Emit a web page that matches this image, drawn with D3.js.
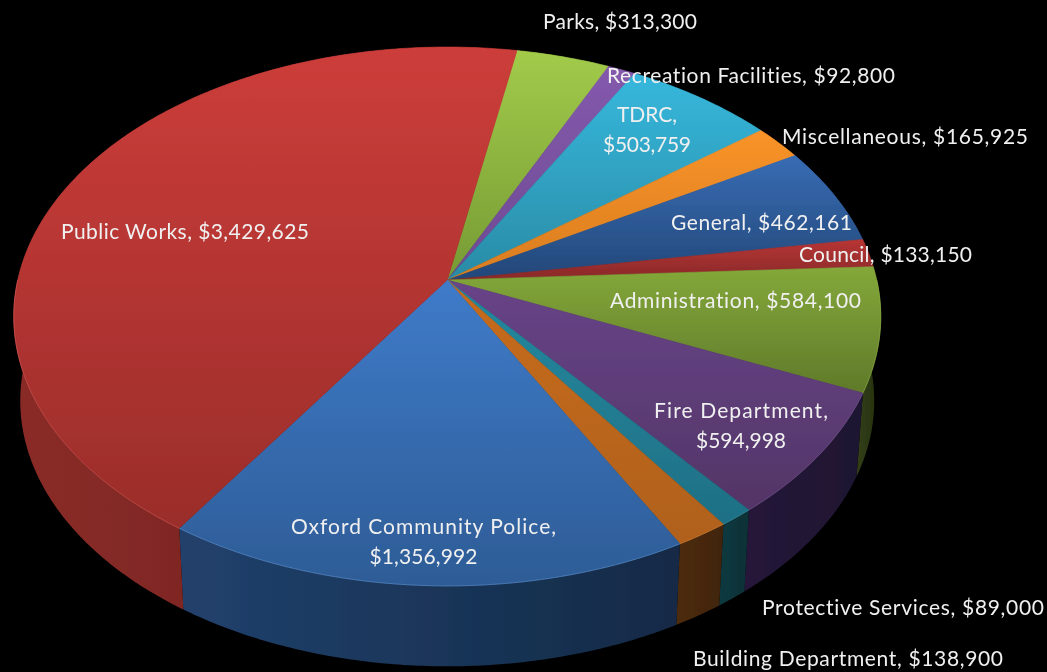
<!DOCTYPE html>
<html><head><meta charset="utf-8">
<script src="https://cdnjs.cloudflare.com/ajax/libs/d3/7.8.5/d3.min.js"></script>
<style>html,body{margin:0;padding:0;background:#000;overflow:hidden}svg{display:block}
text{font-family:Lato,"Open Sans",sans-serif;fill:#f0f0f0;font-size:21px;font-variant-ligatures:none}</style>
</head><body><svg id="c" width="1047" height="672"></svg>
<script>
const categories=["Parks","Recreation Facilities","TDRC","Miscellaneous","General","Council","Administration","Fire Department","Protective Services","Building Department","Oxford Community Police","Public Works"];
const values=[313300,92800,503759,165925,462161,133150,584100,594998,89000,138900,1356992,3429625];
const topLight=["#a2cb4a","#8459ad","#36b8dd","#f99329","#386cb4","#b83533","#84a83a","#684488","#22899f","#c76b1c","#3f7bc9","#cc3d3a"];
const topDark=["#769a34","#6d4a92","#2a8ba5","#d97d20","#234778","#88292a","#5f7a2a","#533566","#1f7085","#b0611a","#2d5c96","#9a2d2a"];
const sideLight=["#4f6a1c","#3f2a55","#175a6e","#8a4c10","#1a3760","#5e1a1a","#323f15","#26183a","#0e3a40","#4d2c0d","#21416c","#8a2c28"];
const sideDark=["#3c5014","#2e1e40","#10485a","#6e3c0c","#122a4c","#481414","#24300f","#1e1430","#0c3036","#40240a","#132a46","#6c1e1c"];
const rimColors=["#b8dc70","#9a78c0","#70d0ea","#ffb060","#5a8cd0","#d06060","#9cc050","#8060a0","#40a0b0","#e08a40","#6aa0e0","#e8645e"];
const labelLines=[["Parks, $313,300"],["Recreation Facilities, $92,800"],["TDRC,","$503,759"],["Miscellaneous, $165,925"],["General, $462,161"],["Council, $133,150"],["Administration, $584,100"],["Fire Department,","$594,998"],["Protective Services, $89,000"],["Building Department, $138,900"],["Oxford Community Police,","$1,356,992"],["Public Works, $3,429,625"]];
// label layout: centre x, first-line centre y, drawn width of each line
const labelCx=[620,751,647,905,761.5,885.5,735.5,741,903,848,423.5,185];
const labelCy=[22,76,115,137,223,255,301,411,608,659,527,232];
const labelWidths=[[154],[288],[60,88],[246],[181],[173],[251],[174,90],[282],[310],[265,108],[248]];

const svg=d3.select("#c");
const defs=svg.append("defs");
const W=1047,H=672;
svg.append("rect").attr("width",W).attr("height",H).attr("fill","#000");
const soft=defs.append("filter").attr("id","soft").attr("filterUnits","userSpaceOnUse").attr("x",0).attr("y",0).attr("width",W).attr("height",H);
soft.append("feGaussianBlur").attr("stdDeviation",0.55);
const softT=defs.append("filter").attr("id","softT").attr("filterUnits","userSpaceOnUse").attr("x",0).attr("y",0).attr("width",W).attr("height",H);
softT.append("feGaussianBlur").attr("stdDeviation",0.3);

const apexX=447.25,apexY=280,k=0.1353,Ru=429.5,Rv=264.5;
const depth=85,shrink=0.985;
const START=10.6*Math.PI/180;
const pie=d3.pie().sort(null).startAngle(START).endAngle(START+2*Math.PI);
const arcs=pie(values);
function project(a,level){ // level 0=top, 1=base
  const x=Math.sin(a),y=Math.cos(a),d=1+k*y,s=level?shrink:1;
  return [apexX+s*Ru*x/d, apexY+(level?depth:0)-s*Rv*y/d];
}
const line=d3.line();
function samples(a0,a1,level){
  const n=Math.max(2,Math.ceil((a1-a0)/0.01));
  return d3.range(n+1).map(i=>project(a0+(a1-a0)*i/n,level));
}
function grad(id,c1,c2,horizontal){
  const g=defs.append("linearGradient").attr("id",id).attr("x1",0).attr("y1",0)
    .attr("x2",horizontal?1:0).attr("y2",horizontal?0:1);
  g.append("stop").attr("offset",0).attr("stop-color",c1);
  g.append("stop").attr("offset",1).attr("stop-color",c2);
}
arcs.forEach((d,i)=>{grad("t"+i,topLight[i],topDark[i],false);grad("s"+i,sideLight[i],sideDark[i],true);});

const pieG=svg.append("g").attr("filter","url(#soft)");
pieG.append("g").selectAll("path").data(arcs).join("path")
  .attr("d",d=>line(samples(d.startAngle,d.endAngle,0).concat(samples(d.startAngle,d.endAngle,1).reverse()))+"Z")
  .attr("fill",(d,i)=>`url(#s${i})`);
pieG.append("g").selectAll("path").data(arcs).join("path")
  .attr("d",d=>line([[apexX,apexY]].concat(samples(d.startAngle,d.endAngle,0)))+"Z")
  .attr("fill",(d,i)=>`url(#t${i})`)
  .attr("stroke",(d,i)=>`url(#t${i})`).attr("stroke-width",0.6);
// the bevel highlight shows only on the near half of the rim
const frontStart=Math.PI/2, frontEnd=Math.PI*1.5;
pieG.append("g").selectAll("path").data(arcs.filter(d=>d.endAngle>frontStart&&d.startAngle<frontEnd)).join("path")
  .attr("d",d=>line(samples(Math.max(d.startAngle,frontStart),Math.min(d.endAngle,frontEnd),0)))
  .attr("fill","none").attr("stroke",d=>rimColors[d.index]).attr("stroke-width",1).attr("stroke-opacity",0.5);

const t=svg.append("g").attr("filter","url(#softT)").selectAll("text").data(labelLines).join("text")
  .attr("text-anchor","middle");
t.each(function(lines,i){
  d3.select(this).selectAll("tspan").data(lines).join("tspan")
    .attr("x",labelCx[i]).attr("y",(l,j)=>labelCy[i]+j*30+7)
    .attr("textLength",(l,j)=>labelWidths[i][j]).attr("lengthAdjust","spacing").text(l=>l);
});
</script></body></html>
